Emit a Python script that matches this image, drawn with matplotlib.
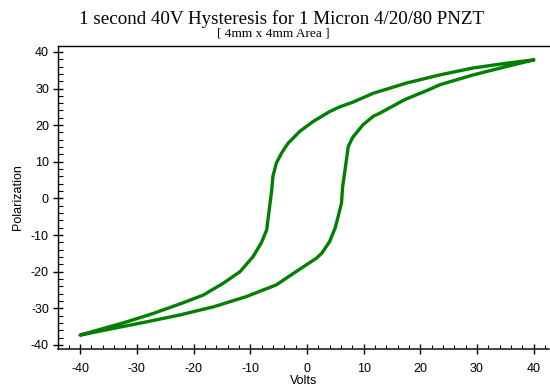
import matplotlib
matplotlib.use("Agg")
import matplotlib.pyplot as plt
from matplotlib.ticker import MultipleLocator

plt.rcParams["axes.unicode_minus"] = False

# Upper branch (sweeping from +40 V down to -40 V)
v_down = [40.0, 35.2, 29.3, 23.4, 17.6, 11.7, 8.0, 5.8, 4.0, 2.3, 1.1, -1.25,
          -3.3, -4.5, -5.4, -6.0, -6.2, -6.5, -6.8, -7.1, -8.0, -9.5, -11.8,
          -14.8, -18.3, -22.4, -27.1, -31.8, -35.9, -40.0]
p_down = [37.8, 36.9, 35.6, 33.7, 31.5, 28.7, 26.2, 25.0, 23.7, 22.1, 21.0, 18.3,
          15.1, 12.3, 9.6, 6.0, 2.3, -1.3, -5.0, -8.6, -12.0, -15.9, -20.0,
          -23.2, -26.4, -28.8, -31.4, -33.7, -35.5, -37.3]

# Lower branch (sweeping from -40 V up to +40 V)
v_up = [-40.0, -34.2, -28.3, -22.4, -16.5, -10.7, -5.4, -1.25, 1.7, 2.6, 4.0,
        5.0, 5.5, 6.1, 6.3, 6.7, 7.3, 8.1, 9.9, 11.7, 12.9, 17.3, 21.4, 23.4,
        29.3, 35.2, 40.0]
p_up = [-37.3, -35.5, -33.7, -31.8, -29.6, -26.8, -23.6, -19.3, -16.3, -15.0,
        -11.8, -8.0, -5.0, -1.3, 3.2, 7.5, 14.2, 16.7, 20.1, 22.4, 23.3, 27.0,
        29.6, 31.0, 33.7, 36.0, 37.8]

x_ticks = [-40, -30, -20, -10, 0, 10, 20, 30, 40]
y_ticks = [-40, -30, -20, -10, 0, 10, 20, 30, 40]

title = "1 second 40V Hysteresis for 1 Micron 4/20/80 PNZT"
subtitle = "[ 4mm x 4mm Area ]"

fig = plt.figure(figsize=(5.5, 3.87), dpi=100)
ax = fig.add_axes([58/550, 1-349/387, (549-58)/550, (349-46)/387])

ax.plot(v_down + v_up, p_down + p_up, color="#008000", lw=2.4,
        solid_joinstyle="round", solid_capstyle="round")

ax.set_xlim(-43.9, 42.7)
ax.set_ylim(-41.1, 41.6)
ax.set_xticks(x_ticks)
ax.set_yticks(y_ticks)
ax.xaxis.set_minor_locator(MultipleLocator(2))
ax.yaxis.set_minor_locator(MultipleLocator(2))

ax.spines["right"].set_visible(False)
ax.spines["top"].set_linewidth(1.0)
ax.spines["left"].set_linewidth(1.0)
ax.spines["bottom"].set_linewidth(1.3)
ax.spines["bottom"].set_color("#333333")

ax.tick_params(axis="x", which="major", direction="inout", length=7, width=1.0,
               pad=6.5, labelsize=9, top=False)
ax.tick_params(axis="x", which="minor", direction="in", length=3, width=0.8, top=False)
ax.tick_params(axis="y", which="major", direction="inout", length=7, width=1.0,
               pad=3, labelsize=9, right=False)
ax.tick_params(axis="y", which="minor", direction="in", length=3.5, width=0.8, right=False)

for lab in ax.get_xticklabels() + ax.get_yticklabels():
    lab.set_fontfamily("Liberation Sans")

ax.set_xlabel("Volts", fontfamily="Liberation Sans", fontsize=9, labelpad=0)
ax.set_ylabel("Polarization", fontfamily="Liberation Sans", fontsize=9, labelpad=5)

fig.text(281.5/550, 1-23.5/387, title, fontfamily="Liberation Serif", fontsize=13.7,
         ha="center", va="baseline")
fig.text(273.5/550, 1-36.5/387, subtitle, fontfamily="Liberation Serif", fontsize=9.6,
         ha="center", va="baseline")

fig.savefig("out.png", dpi=100, facecolor="white")
